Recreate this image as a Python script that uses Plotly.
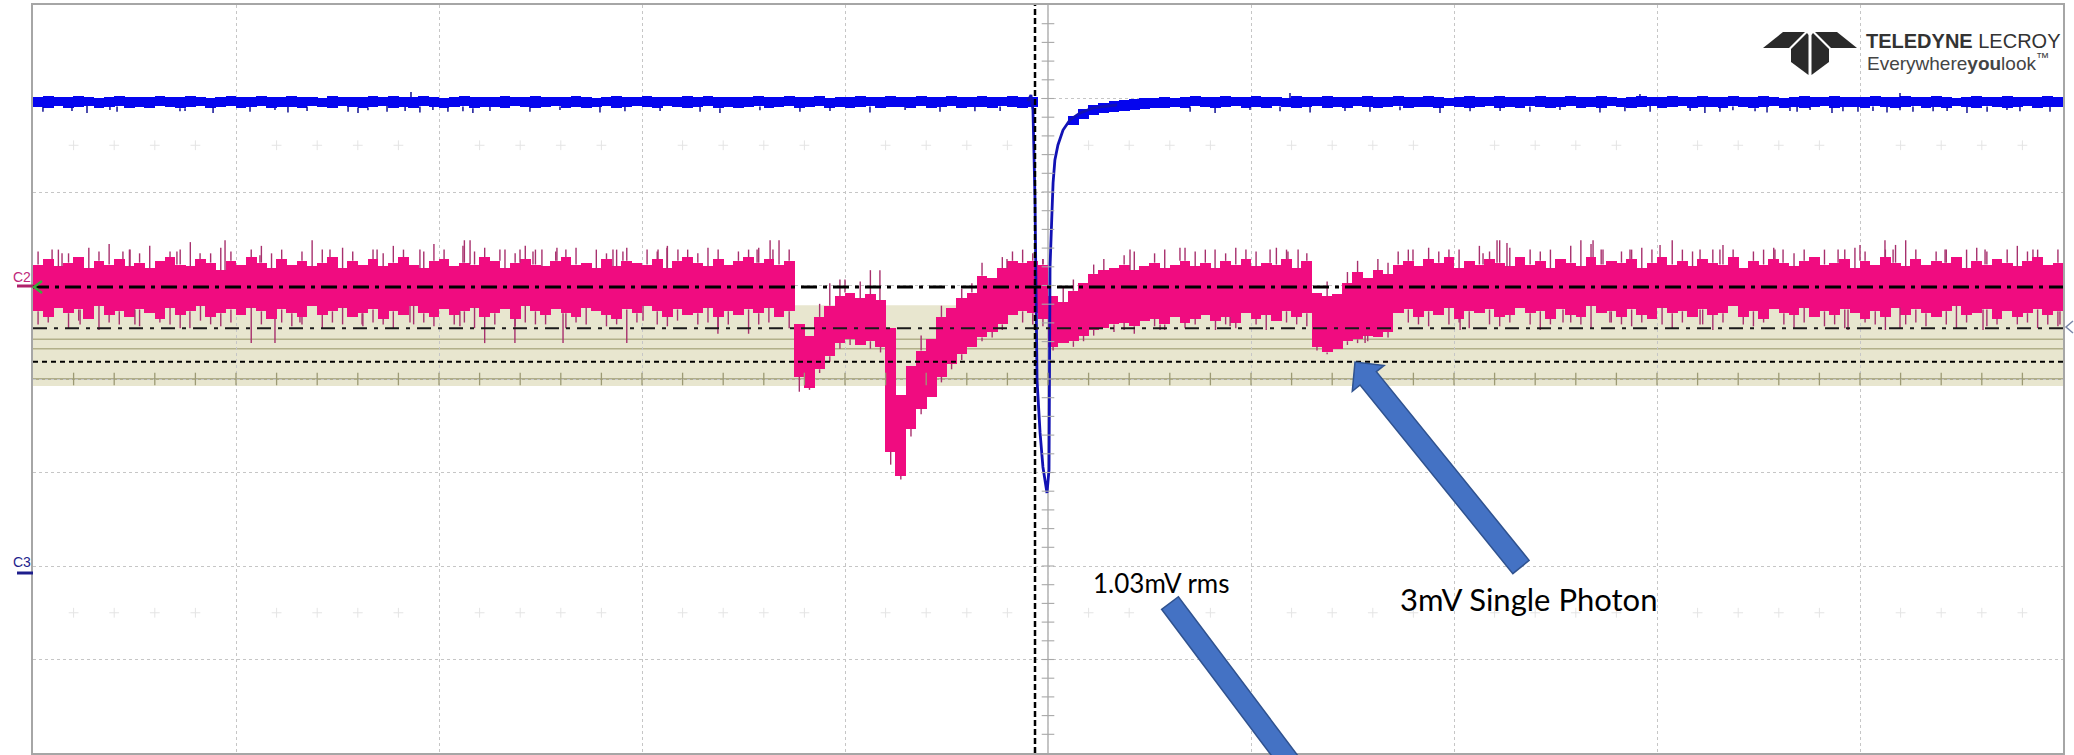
import plotly.graph_objects as go

# ---------------------------------------------------------------- canvas
W, H = 2074, 755
ML, MR, MT, MB = 33, 11, 5, 2
PW = W - ML - MR
PH = H - MT - MB

N_DIV_X, N_DIV_Y = 10, 8
COL = 0.05                      # horizontal width (div) of one min/max column

# ---------------------------------------------------------------- channel setup
C2_MV_PER_DIV = 5.0
C2_OFFSET_DIV = 0.984
C1_MV_PER_DIV = 50.0
C1_OFFSET_DIV = 2.963
TRIGGER_T = 4.936               # div

# C2 cursor / measurement levels (mV, relative to C2 ground)
C2_CURSOR_MV = [0.0, -2.2, -4.0]
C2_BAND_MV = (-0.97, -5.3)
C2_GUIDE_MV = [-2.8, -3.3]

# ---------------------------------------------------------------- C2 (SiPM) per-column envelope, mV
# dense part of each column
pink_hi = [
    1.2, 1.5, 1.1, 1.3, 1.6, 1.0, 1.4, 1.2, 1.5, 1.1,
    1.3, 1.0, 1.4, 1.6, 1.2, 1.1, 1.5, 1.3, 0.9, 1.4,
    1.2, 1.6, 1.3, 1.0, 1.5, 1.2, 1.4, 1.1, 1.3, 1.6,
    1.0, 1.4, 1.2, 1.5, 1.1, 1.3, 1.6, 1.2, 1.0, 1.4,
    1.5, 1.1, 1.3, 1.2, 1.6, 1.4, 1.0, 1.3, 1.5, 1.2,
    1.1, 1.4, 1.6, 1.2, 1.3, 1.0, 1.5, 1.1, 1.4, 1.3,
    1.2, 1.5, 1.0, 1.4, 1.6, 1.3, 1.1, 1.5, 1.2, 1.4,
    1.6, 1.3, 1.5, 1.2, 1.4,
    -2.0, -2.6, -1.6, -1.0, -0.5, -0.3, -0.6, -0.4, -0.7, -2.2,
    -5.8, -4.2, -3.4, -2.8, -1.6, -1.1, -0.6, -0.3, 0.6, 0.5,
    1.0, 1.4, 1.3, 1.4, 1.2,
    -0.5, -0.8, -0.2, 0.2, 0.7, 0.9, 1.0, 1.2, 0.9, 1.1,
    1.3, 1.0, 1.2, 1.4, 1.1, 1.3, 1.0, 1.4, 1.2, 1.5,
    1.1, 1.3, 1.2, 1.5, 1.0, 1.4,
    -0.3, -0.5, -0.4, 0.2, 0.8, 0.5, 0.9, 0.7,
    1.2, 1.4, 1.1, 1.5, 1.3, 1.6, 1.0, 1.4, 1.2, 1.5,
    1.3, 1.1, 1.6, 1.2, 1.4, 1.0, 1.5, 1.3, 1.1, 1.6,
    1.2, 1.4, 1.3, 1.5, 1.0, 1.3, 1.6, 1.2, 1.4, 1.1,
    1.5, 1.3, 1.2, 1.6, 1.0, 1.4, 1.2, 1.5, 1.3, 1.1,
    1.4, 1.6, 1.2, 1.3, 1.5, 1.0, 1.4, 1.2, 1.6, 1.3,
    1.1, 1.5, 1.2, 1.4, 1.3, 1.6, 1.0, 1.4, 1.2, 1.5,
    1.3, 1.1, 1.4, 1.6, 1.2, 1.3,
]
pink_lo = [
    -1.3, -1.6, -1.1, -1.4, -1.2, -1.7, -1.0, -1.5, -1.3, -1.6,
    -1.2, -1.4, -1.7, -1.1, -1.5, -1.3, -1.0, -1.6, -1.4, -1.2,
    -1.5, -1.1, -1.3, -1.7, -1.2, -1.4, -1.6, -1.0, -1.5, -1.3,
    -1.1, -1.6, -1.4, -1.2, -1.7, -1.3, -1.5, -1.0, -1.4, -1.6,
    -1.2, -1.5, -1.3, -1.1, -1.6, -1.4, -1.2, -1.7, -1.0, -1.3,
    -1.5, -1.2, -1.4, -1.6, -1.1, -1.3, -1.5, -1.7, -1.2, -1.4,
    -1.0, -1.3, -1.6, -1.2, -1.5, -1.4, -1.1, -1.6, -1.3, -1.5,
    -1.2, -1.4, -1.1, -1.6, -1.3,
    -4.8, -5.4, -4.4, -3.7, -3.0, -2.8, -3.1, -2.9, -3.2, -8.8,
    -10.1, -7.6, -6.5, -5.9, -4.8, -4.1, -3.6, -3.2, -2.7, -2.4,
    -2.0, -1.5, -1.3, -1.4, -1.7,
    -3.2, -3.0, -2.9, -2.6, -2.3, -2.2, -2.0, -1.9, -2.1, -1.8,
    -1.7, -2.0, -1.6, -1.9, -1.7, -1.5, -1.8, -1.6, -1.9, -1.4,
    -1.7, -1.5, -1.8, -1.3, -1.6, -1.4,
    -3.2, -3.5, -3.3, -2.9, -2.8, -2.6, -2.7, -2.4,
    -1.4, -1.2, -1.6, -1.3, -1.5, -1.1, -1.7, -1.3, -1.4, -1.2,
    -1.6, -1.5, -1.1, -1.4, -1.3, -1.7, -1.2, -1.5, -1.6, -1.0,
    -1.4, -1.3, -1.6, -1.2, -1.5, -1.7, -1.1, -1.4, -1.3, -1.6,
    -1.2, -1.5, -1.4, -1.0, -1.6, -1.3, -1.7, -1.2, -1.4, -1.5,
    -1.1, -1.6, -1.3, -1.5, -1.2, -1.4, -1.7, -1.3, -1.6, -1.1,
    -1.5, -1.2, -1.4, -1.6, -1.3, -1.0, -1.5, -1.4, -1.2, -1.7,
    -1.3, -1.6, -1.4, -1.2, -1.5, -1.3,
]
# single-sample extremes of each column (None: no isolated excursion)
pink_pk_hi = [
    1.9, None, 2.0, 1.8, None, 2.1, 1.9, 2.3, None, 2.0,
    1.8, 2.2, None, 1.9, 2.0, 2.4, None, 1.8, 2.1, 1.9,
    None, 2.0, 2.2, 1.8, 2.0, None, 1.9, 2.5, 2.0, None,
    2.1, 1.9, None, 2.0, 1.8, 2.2, 2.0, None, 1.9, 2.3,
    2.0, None, 2.5, 1.9, 2.1, None, 2.0, 1.8, 2.2, 2.0,
    None, 1.9, 2.0, 2.1, None, 2.0, 1.8, 2.0, 2.1, None,
    2.0, 1.9, 2.2, None, 2.0, 1.8, 2.1, 2.0, None, 1.9,
    2.0, 2.1, None, 2.5, 2.0,
    None, None, -0.9, 0.2, 0.4, None, 0.3, 0.9, None, None,
    None, None, -2.6, None, -1.0, None, -0.1, 0.2, 1.3, None,
    1.6, 1.9, 2.0, 1.8, 1.5,
    None, 0.0, 0.4, None, 1.2, 1.5, None, 1.7, 1.9, None,
    1.8, 2.0, None, 2.1, 1.9, 2.0, None, 1.8, 2.1, 2.0,
    1.9, None, 2.1, 2.0, None, 1.8,
    None, 0.3, None, 0.8, 1.4, None, 1.5, 1.3,
    1.9, 2.0, None, 2.1, 1.9, 2.0, 2.0, None, 2.2, 1.9,
    2.5, 2.1, None, 2.0, 1.9, 2.0, None, 2.2, 2.5, 2.3,
    2.0, None, 1.9, 2.0, 2.1, 2.0, None, 2.5, 2.0, 1.9,
    None, 2.0, 2.25, 2.0, None, 1.9, 2.0, 2.1, None, 1.8,
    2.0, 1.6, 2.0, None, 2.0, 2.1, 1.9, None, 2.0, 2.25,
    2.5, 2.0, None, 1.9, 2.0, None, 2.0, 2.1, 1.9, None,
    2.0, 2.2, 1.9, 2.0, None, 2.0,
]
pink_pk_lo = [
    -2.0, -1.9, None, -2.2, -1.8, None, -2.3, -1.9, -2.0, None,
    -2.1, None, -1.9, -2.0, -2.2, None, -1.8, -2.0, -2.1, -1.9,
    None, -3.0, -2.0, None, -1.9, -2.1, -2.0, None, -2.2, -1.9,
    -2.0, None, -2.1, -1.9, -2.0, -2.2, None, -2.0, -1.9, -2.1,
    None, -2.0, -1.9, -2.2, -3.0, -2.0, None, -2.1, -1.9, -2.0,
    -2.0, None, -2.2, -1.9, -2.0, None, -2.1, -2.0, -3.0, -1.9,
    None, -2.0, -2.1, -1.8, None, -2.0, -1.9, -2.2, -2.0, None,
    -2.5, -2.0, -1.9, None, -2.2,
    -5.6, -5.5, -4.6, -4.0, -3.3, -3.1, None, -3.3, -3.5, -9.5,
    -10.3, -8.0, -6.8, None, -5.1, -4.4, -3.9, None, -2.9, -2.7,
    -2.3, None, -1.9, -2.0, -2.1,
    -3.4, None, -3.2, -2.9, -2.6, None, -2.4, -2.3, -2.5, None,
    -2.1, -2.3, None, -2.2, -2.0, None, -2.3, -2.0, -2.2, None,
    -2.0, -2.3, None, -1.9, -2.0, -2.1,
    -3.4, -3.6, None, -3.1, -3.0, -2.9, None, -2.7,
    None, -1.9, -2.0, -2.1, None, -2.0, -1.9, -2.2, None, -2.0,
    -2.1, -1.9, None, -2.0, -2.3, -2.0, None, -1.9, -2.0, -2.2,
    None, -1.9, -2.0, -2.1, -1.9, None, -2.0, -2.2, -1.9, None,
    -2.0, -2.3, -1.9, None, -2.0, -2.1, -1.9, None, -2.0, -2.2,
    -1.9, None, -2.1, -2.0, -2.2, None, -1.9, -2.0, -2.3, None,
    -2.0, -1.9, -2.1, None, -2.0, -2.2, -1.9, None, -2.1, -2.0,
    None, -2.0, -1.9, -2.2, -2.0, -2.1,
]

# further isolated C2 excursions between column centres (time in div, peak in mV)
pink_up_t = [0.094, 0.143, 0.443, 0.478, 0.709, 0.823, 0.946, 1.118, 1.463, 1.695,
             1.906, 2.118, 2.153, 2.300, 2.399, 2.463, 2.507, 2.581, 2.857, 2.906,
             3.079, 3.123, 3.177, 3.567, 3.631, 3.645, 4.000, 4.172, 4.798, 4.975,
             5.404, 5.650, 5.823, 6.094, 6.182, 6.232, 6.798, 7.143, 7.212, 7.261,
             7.685, 7.734, 7.867, 8.015, 8.212, 8.310, 8.394, 8.581, 8.621, 8.892,
             9.000, 9.123, 9.163, 9.419, 9.616, 9.852]
pink_up_mv = [2.0, 1.8, 1.9, 2.0, 1.9, 1.8, 2.5, 1.7, 2.0, 2.0,
              2.0, 2.2, 2.5, 2.0, 2.0, 1.9, 2.0, 2.1, 2.0, 1.9,
              2.0, 2.1, 2.0, 2.0, 2.5, 2.0, 0.4, 0.9, 1.5, 1.5,
              2.0, 2.1, 2.0, 2.0, 1.9, 2.0, 2.0, 1.8, 2.5, 2.35,
              2.5, 2.0, 2.0, 2.25, 2.0, 2.0, 1.6, 2.0, 2.0, 2.0,
              2.25, 2.5, 2.0, 2.0, 2.0, 2.0]
pink_dn_t = [0.232, 0.502, 0.773, 1.192, 1.315, 1.621, 1.857, 2.103, 2.374, 2.611,
             3.005, 3.374, 5.552, 5.897, 6.562, 7.030, 7.537, 7.768, 8.212, 8.941,
             9.197, 9.606, 9.985]
pink_dn_mv = [-2.0, -2.0, -2.2, -3.0, -1.9, -2.0, -1.9, -2.1, -3.0, -3.0,
              -1.8, -2.5, -2.3, -2.1, -3.0, -2.3, -1.9, -1.9, -2.0, -2.3,
              -2.2, -2.3, -2.0]

# ---------------------------------------------------------------- C1 (laser monitor) per-column envelope, mV
blue_hi = [
    2.7, 3.0, 2.4, 2.7, 3.2, 2.7, 2.1, 2.7, 3.0, 2.4,
    2.7, 2.7, 3.2, 2.4, 2.7, 3.0, 2.7, 2.1, 2.7, 3.0,
    2.4, 2.7, 3.0, 2.7, 2.4, 3.2, 2.7, 2.7, 2.1, 3.0,
    2.7, 2.4, 2.7, 3.0, 2.7, 3.2, 2.4, 2.7, 3.0, 2.7,
    2.1, 2.7, 3.0, 2.7, 2.4, 2.7, 3.2, 2.7, 2.4, 3.0,
    2.7, 2.7, 2.4, 3.0, 2.7, 2.1, 2.7, 3.2, 2.7, 2.4,
    3.0, 2.7, 2.7, 2.4, 3.2, 2.7, 3.0, 2.4, 2.7, 2.7,
    2.4, 3.0, 2.7, 2.7, 3.2, 2.4, 2.7, 3.0, 2.1, 2.7,
    2.7, 3.0, 2.4, 2.7, 3.2, 2.7, 2.4, 3.0, 2.7, 2.7,
    3.0, 2.4, 2.7, 3.2, 2.7, 2.4, 3.0, 2.7, 2.7,
    None, None,
    None, -7.5, -3.7, -1.6, -0.5, 0.5, 1.1, 1.6, 2.1, 2.1, 2.6, 2.1,
    2.7, 3.0, 2.4, 2.7, 3.2, 2.7, 2.4,
    3.0, 2.7, 2.7, 2.1, 3.0, 2.7, 2.4, 3.2, 2.7, 2.7,
    2.4, 3.0, 2.7, 2.7, 3.2, 2.4, 2.7, 3.0, 2.7, 2.1,
    2.7, 3.0, 2.4, 2.7, 3.2, 2.7, 2.7, 2.4, 3.0, 2.7,
    2.7, 3.2, 2.4, 2.7, 3.0, 2.7, 2.1, 2.7, 3.0, 2.4,
    2.7, 3.2, 2.7, 2.4, 3.0, 2.7, 2.7, 3.2, 2.4, 2.7,
    3.0, 2.7, 2.1, 2.7, 3.0, 2.4, 2.7, 3.2, 2.7, 2.7,
    2.4, 3.0, 2.7, 2.7, 3.2, 2.4, 2.7, 3.0, 2.7, 2.1,
    2.7, 3.0, 2.4, 2.7, 3.2, 2.7, 2.7, 2.4, 3.0, 2.7,
]
blue_lo = [
    -2.7, -3.2, -2.4, -3.0, -2.7, -2.1, -3.4, -2.7, -2.4, -3.0,
    -2.7, -3.0, -2.4, -2.7, -3.4, -2.7, -2.1, -3.0, -2.7, -2.4,
    -3.0, -2.7, -2.4, -3.2, -2.7, -2.7, -3.0, -2.4, -2.7, -3.4,
    -2.4, -2.7, -3.0, -2.7, -2.1, -3.0, -2.7, -3.2, -2.4, -2.7,
    -3.0, -2.7, -2.4, -3.4, -2.7, -2.7, -3.0, -2.4, -2.7, -3.2,
    -2.7, -2.4, -3.0, -2.7, -3.2, -2.7, -2.4, -3.0, -2.7, -2.1,
    -2.7, -3.2, -2.4, -2.7, -3.0, -2.7, -2.4, -3.4, -2.7, -3.0,
    -2.7, -2.4, -3.0, -2.7, -2.1, -3.2, -2.7, -2.4, -3.0, -2.7,
    -3.0, -2.7, -2.4, -3.2, -2.7, -2.7, -3.0, -2.4, -3.4, -2.7,
    -2.4, -3.0, -2.7, -2.7, -3.2, -2.4, -2.7, -3.0, -2.7,
    None, None,
    None, -12.5, -9.1, -7.0, -5.9, -5.3, -4.8, -4.3, -3.7, -3.2, -3.2, -2.7,
    -3.0, -2.4, -2.7, -3.2, -2.7, -2.4, -3.0,
    -2.7, -3.4, -2.4, -2.7, -3.0, -2.7, -2.1, -3.0, -2.7, -3.2,
    -2.4, -2.7, -3.0, -2.7, -2.4, -3.2, -2.7, -2.7, -3.0, -2.4,
    -2.7, -3.2, -2.7, -2.4, -3.0, -2.7, -3.4, -2.4, -2.7, -3.0,
    -2.7, -2.4, -3.0, -2.7, -3.2, -2.4, -2.7, -3.0, -2.7, -2.1,
    -3.0, -2.7, -2.4, -3.2, -2.7, -2.7, -3.0, -2.4, -2.7, -3.4,
    -2.7, -2.4, -3.0, -2.7, -3.2, -2.7, -2.4, -3.0, -2.7, -2.7,
    -3.2, -2.4, -2.7, -3.0, -2.7, -2.4, -3.2, -2.7, -3.0, -2.4,
    -2.7, -3.0, -2.4, -2.7, -3.2, -2.7, -2.4, -3.0, -2.7, -2.7,
]

# the fast laser edge, drawn as a line (time in div, mV)
pulse_t = [4.901, 4.916, 4.926, 4.936, 4.946, 4.961, 4.975, 4.990, 4.995, 5.005,
           5.010, 5.020, 5.025, 5.034, 5.049, 5.074, 5.108, 5.158, 5.222, 5.340]
pulse_mv = [0.5, 3.7, -4.3, -52.4, -148.7, -177.0, -195.2, -206.4, -209.1, -196.8,
            -88.2, -57.8, -43.3, -31.0, -23.0, -15.0, -9.6, -5.9, -3.2, -1.6]

blue_spike_t = [0.049, 0.192, 0.266, 0.379, 0.414, 0.724, 0.749, 0.887, 1.069, 1.192,
                1.256, 1.350, 1.552, 1.601, 1.650, 1.744, 1.833, 1.906, 1.970, 2.044,
                2.118, 2.167, 2.251, 2.448, 2.596, 2.793, 2.916, 3.089, 3.286, 3.384,
                3.581, 3.778, 3.926, 4.123, 4.296, 4.468, 4.640, 4.764, 5.700, 5.823,
                5.995, 6.143, 6.291, 6.463, 6.586, 6.734, 6.931, 7.079, 7.227, 7.374,
                7.522, 7.719, 7.842, 7.966, 8.163, 8.236, 8.310, 8.374, 8.483, 8.542,
                8.655, 8.690, 8.754, 8.862, 8.916, 8.990, 9.064, 9.133, 9.197, 9.261,
                9.360, 9.429, 9.527, 9.626, 9.724, 9.788, 9.936]
blue_spike_mv = [-5.3, -4.8, -5.9, -4.3, -5.3, -5.0, -4.8, -5.9, -5.3, -4.3,
                 -5.6, -4.8, -5.3, -5.9, -4.5, -5.3, -4.8, -5.6, -4.3, -5.3,
                 -5.0, -5.9, -4.8, -5.3, -4.3, -5.6, -5.0, -4.8, -5.3, -5.9,
                 -4.5, -5.3, -4.8, -5.6, -4.3, -5.3, -5.0, -4.8, -5.3, -5.9,
                 -4.3, -5.0, -5.6, -4.8, -5.3, -4.5, -5.9, -5.0, -4.8, -5.3,
                 -4.3, -5.6, -5.0, -5.3, -4.8, -5.9, -5.3, -4.5, -5.0, -5.6,
                 -4.8, -5.3, -4.3, -5.9, -5.0, -5.3, -4.8, -5.6, -4.5, -5.3,
                 -5.0, -4.8, -5.9, -5.3, -4.3, -5.0, -5.3]
blue_up_t = [1.862, 6.192, 7.916, 9.197]
blue_up_mv = [5.3, 4.8, 4.3, 4.8]

# ---------------------------------------------------------------- styling
PINK = "#F00C80"
PINK_EDGE = "#A7306D"
BLUE = "#0505EE"
BLUE_EDGE = "#00008C"
GRID = "#C6C6C6"
FRAME = "#A6A6A6"
BAND = "#E8E6CF"
OLIVE = "#B2B08A"
OLIVE_AXIS = "#9C9A74"
ARROW_FILL = "#4472C4"
ARROW_EDGE = "#2F528F"


def c2_div(mv):
    return None if mv is None else C2_OFFSET_DIV + mv / C2_MV_PER_DIV


def c1_div(mv):
    return None if mv is None else C1_OFFSET_DIV + mv / C1_MV_PER_DIV


def px2paper(px, py):
    return (px - ML) / PW, (H - MB - py) / PH


def path_from_px(points, close=True):
    parts = []
    for k, (px, py) in enumerate(points):
        x, y = px2paper(px, py)
        parts.append(("M" if k == 0 else "L") + f"{x:.5f},{y:.5f}")
    return " ".join(parts) + (" Z" if close else "")


def block_arrow(tail, tip, shaft_w, head_w, head_len):
    tx, ty = tail
    hx, hy = tip
    dx, dy = hx - tx, hy - ty
    n = (dx * dx + dy * dy) ** 0.5
    ux, uy = dx / n, dy / n
    nx, ny = -uy, ux
    bx, by = hx - ux * head_len, hy - uy * head_len
    s, h = shaft_w / 2, head_w / 2
    return [
        (tx + nx * s, ty + ny * s), (bx + nx * s, by + ny * s), (bx + nx * h, by + ny * h),
        (hx, hy),
        (bx - nx * h, by - ny * h), (bx - nx * s, by - ny * s), (tx - nx * s, ty - ny * s),
    ]


def envelope_bars(hi, lo, to_div, color):
    xs, base, span = [], [], []
    for i, (a, b) in enumerate(zip(hi, lo)):
        if a is None or b is None:
            continue
        xs.append((i + 0.5) * COL)
        base.append(to_div(b))
        span.append(to_div(a) - to_div(b))
    return go.Bar(x=xs, base=base, y=span, width=COL * 1.06,
                  marker=dict(color=color, line=dict(width=0)),
                  hoverinfo="skip", showlegend=False)


def column_peaks(edge, peaks, to_div, color, width):
    xs, ys = [], []
    for i, (e, p) in enumerate(zip(edge, peaks)):
        if p is None or e is None:
            continue
        t = (i + 0.5) * COL
        xs += [t, t, None]
        ys += [to_div(e), to_div(p), None]
    return go.Scatter(x=xs, y=ys, mode="lines", line=dict(color=color, width=width),
                      hoverinfo="skip", showlegend=False)


def spike_trace(ts, peaks, start_list, to_div, color, width):
    xs, ys = [], []
    for t, p in zip(ts, peaks):
        col = min(int(t / COL), len(start_list) - 1)
        start = start_list[col]
        if start is None:
            start = 0.0
        xs += [t, t, None]
        ys += [to_div(start), to_div(p), None]
    return go.Scatter(x=xs, y=ys, mode="lines", line=dict(color=color, width=width),
                      hoverinfo="skip", showlegend=False)


fig = go.Figure()

# C2 trace
fig.add_trace(envelope_bars(pink_hi, pink_lo, c2_div, PINK))
fig.add_trace(column_peaks(pink_hi, pink_pk_hi, c2_div, PINK_EDGE, 1.4))
fig.add_trace(column_peaks(pink_lo, pink_pk_lo, c2_div, PINK_EDGE, 1.4))
fig.add_trace(spike_trace(pink_up_t, pink_up_mv, pink_hi, c2_div, PINK_EDGE, 1.4))
fig.add_trace(spike_trace(pink_dn_t, pink_dn_mv, pink_lo, c2_div, PINK_EDGE, 1.4))

# C1 trace
fig.add_trace(envelope_bars(blue_hi, blue_lo, c1_div, BLUE))
fig.add_trace(spike_trace(blue_spike_t, blue_spike_mv, blue_lo, c1_div, BLUE_EDGE, 1.4))
fig.add_trace(spike_trace(blue_up_t, blue_up_mv, blue_hi, c1_div, BLUE_EDGE, 1.4))
fig.add_trace(go.Scatter(x=pulse_t, y=[c1_div(v) for v in pulse_mv], mode="lines",
                         line=dict(color="#1212B4", width=2.8),
                         hoverinfo="skip", showlegend=False))

# graticule minor ticks on the centre axes and faint sub-division marks
minor = [k * 0.2 for k in range(1, N_DIV_X * 5)]
fig.add_trace(go.Scatter(x=minor, y=[0] * len(minor), mode="markers",
                         marker=dict(symbol="line-ns", size=9,
                                     line=dict(width=1.3, color=OLIVE_AXIS)),
                         hoverinfo="skip", showlegend=False))
vminor = [-N_DIV_Y / 2 + k * 0.2 for k in range(1, N_DIV_Y * 5)]
fig.add_trace(go.Scatter(x=[N_DIV_X / 2] * len(vminor), y=vminor, mode="markers",
                         marker=dict(symbol="line-ew", size=9,
                                     line=dict(width=1.1, color="#A8A8A8")),
                         hoverinfo="skip", showlegend=False))
faint = [v for v in minor if abs(v - round(v)) > 1e-6]
fig.add_trace(go.Scatter(x=faint * 2, y=[2.5] * len(faint) + [-2.5] * len(faint),
                         mode="markers",
                         marker=dict(symbol="cross-thin", size=7,
                                     line=dict(width=1, color="#E4E4E4")),
                         hoverinfo="skip", showlegend=False))

shapes = []
# C2 measurement band and guide lines
shapes.append(dict(type="rect", xref="x", yref="y", x0=0, x1=N_DIV_X,
                   y0=c2_div(C2_BAND_MV[1]), y1=c2_div(C2_BAND_MV[0]),
                   fillcolor=BAND, line=dict(width=0), layer="below"))
for lv in C2_GUIDE_MV:
    shapes.append(dict(type="line", xref="x", yref="y", x0=0, x1=N_DIV_X,
                       y0=c2_div(lv), y1=c2_div(lv),
                       line=dict(color=OLIVE, width=1.5), layer="below"))
shapes.append(dict(type="line", xref="x", yref="y", x0=0, x1=N_DIV_X, y0=0, y1=0,
                   line=dict(color=OLIVE_AXIS, width=1.5), layer="below"))
shapes.append(dict(type="line", xref="x", yref="y", x0=N_DIV_X / 2, x1=N_DIV_X / 2,
                   y0=-N_DIV_Y / 2, y1=N_DIV_Y / 2,
                   line=dict(color="#B0B0B0", width=1.5), layer="below"))

# cursor levels drawn over the traces
cursor_styles = [
    dict(color="#000000", width=3, dash="16px,6px,4px,6px"),
    dict(color="#1A1A1A", width=2, dash="14px,7px,4px,7px"),
    dict(color="#000000", width=2, dash="5px,4px"),
]
for lv, st in zip(C2_CURSOR_MV, cursor_styles):
    shapes.append(dict(type="line", xref="x", yref="y", x0=0, x1=N_DIV_X,
                       y0=c2_div(lv), y1=c2_div(lv), line=st, layer="above"))

# trigger position
shapes.append(dict(type="line", xref="x", yref="y", x0=TRIGGER_T, x1=TRIGGER_T,
                   y0=-N_DIV_Y / 2, y1=N_DIV_Y / 2,
                   line=dict(color="#000000", width=2.5, dash="6px,3px"), layer="above"))

# callout arrows
for tail, tip in [((1521, 567), (1355, 362)), ((1170, 603), (1330, 816))]:
    shapes.append(dict(type="path", xref="paper", yref="paper",
                       path=path_from_px(block_arrow(tail, tip, 21, 41, 21)),
                       fillcolor=ARROW_FILL, line=dict(color=ARROW_EDGE, width=1.5),
                       layer="above"))

# channel markers at the left / right edge
shapes.append(dict(type="line", xref="paper", yref="paper",
                   x0=px2paper(17, 286)[0], x1=px2paper(33, 286)[0],
                   y0=px2paper(17, 286)[1], y1=px2paper(33, 286)[1],
                   line=dict(color="#B0206A", width=3)))
shapes.append(dict(type="path", xref="paper", yref="paper",
                   path=path_from_px([(42, 281), (34, 287), (42, 293)], close=False),
                   line=dict(color="#3DAA3D", width=2.5)))
shapes.append(dict(type="line", xref="paper", yref="paper",
                   x0=px2paper(17, 573)[0], x1=px2paper(33, 573)[0],
                   y0=px2paper(17, 573)[1], y1=px2paper(33, 573)[1],
                   line=dict(color="#1E1E8C", width=3)))
shapes.append(dict(type="path", xref="paper", yref="paper",
                   path=path_from_px([(2073, 321), (2066, 327), (2073, 333)], close=False),
                   line=dict(color="#7A86A8", width=1.5)))

# manufacturer emblem
CX = 1810
emblem_left = [
    [(-47, 48), (-27, 32), (-5, 32), (-21, 48)],
    [(-19, 49), (-3, 33), (-1.5, 35), (-1.5, 75), (-19, 62)],
]
for poly in emblem_left:
    for sign in (1, -1):
        pts = [(CX + sign * dx, dy) for dx, dy in poly]
        shapes.append(dict(type="path", xref="paper", yref="paper",
                           path=path_from_px(pts), fillcolor="#2A2A2A",
                           line=dict(width=0)))

annotations = []


def text_at(px, py, txt, size, color, family, xanchor="center"):
    x, y = px2paper(px, py)
    annotations.append(dict(xref="paper", yref="paper", x=x, y=y, text=txt,
                            showarrow=False, xanchor=xanchor, yanchor="middle",
                            font=dict(size=size, color=color, family=family)))


CALLOUT_FONT = "Lato, 'Open Sans', sans-serif"
LOGO_FONT = "'Liberation Sans', Arial, sans-serif"
text_at(1161, 583, "1.03mV rms", 26, "#000000", CALLOUT_FONT)
text_at(1528, 599, "3mV Single Photon", 31, "#000000", CALLOUT_FONT)
text_at(1864, 41, "<b>TELEDYNE</b> LECROY", 20, "#333333", LOGO_FONT, "left")
text_at(1865, 62, "Everywhere<b>you</b>look<sup>™</sup>", 19, "#444444", LOGO_FONT, "left")
text_at(22, 277, "C2", 14, "#C0287A", LOGO_FONT)
text_at(22, 562, "C3", 14, "#1E1E8C", LOGO_FONT)

axis_common = dict(showgrid=True, gridcolor=GRID, griddash="dot", gridwidth=1,
                   zeroline=False, showticklabels=False, ticks="",
                   showline=True, mirror=True, linecolor=FRAME, linewidth=2,
                   fixedrange=True)

fig.update_layout(
    width=W, height=H,
    margin=dict(l=ML, r=MR, t=MT, b=MB),
    paper_bgcolor="white", plot_bgcolor="white",
    barmode="overlay", bargap=0,
    showlegend=False,
    xaxis=dict(range=[0, N_DIV_X], dtick=1, **axis_common),
    yaxis=dict(range=[-N_DIV_Y / 2, N_DIV_Y / 2], dtick=1, **axis_common),
    shapes=shapes,
    annotations=annotations,
)

fig.write_html("out.html", config={"displayModeBar": False})
